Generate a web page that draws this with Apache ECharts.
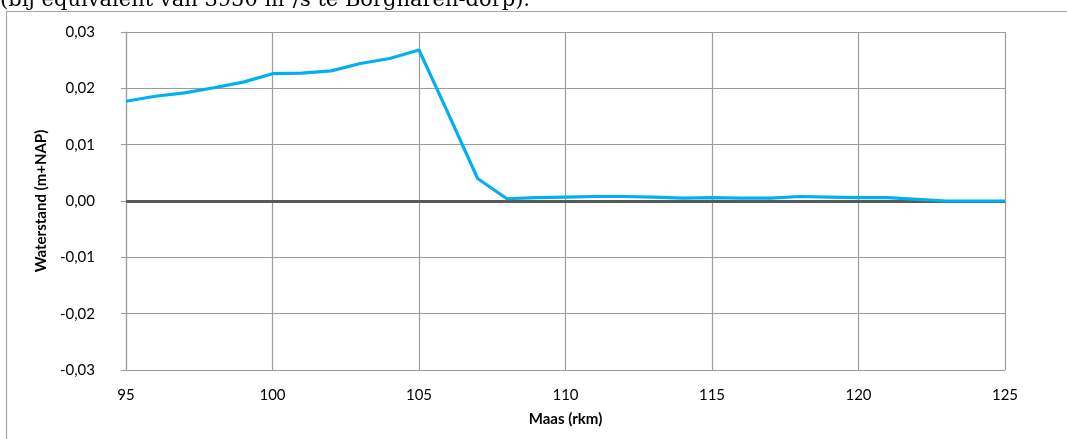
<!DOCTYPE html>
<html>
<head>
<meta charset="utf-8">
<title>Waterstand Maas</title>
<script src="https://cdn.jsdelivr.net/npm/echarts@6/dist/echarts.min.js"></script>
<style>
  html, body { margin: 0; padding: 0; background: #ffffff; }
  #chart { width: 1067px; height: 439px; }
</style>
</head>
<body>
<div id="chart"></div>
<script>
// River kilometre along the Maas
const rkm = [95, 96, 97, 98, 99, 100, 101, 102, 103, 104, 105, 106, 107, 108, 109, 110,
             111, 112, 113, 114, 115, 116, 117, 118, 119, 120, 121, 122, 123, 124, 125];
// Water level difference (m+NAP) at each kilometre
const waterstand = [0.0177, 0.0186, 0.0192, 0.0201, 0.0211, 0.0226, 0.0227, 0.0231, 0.0244, 0.0253,
                    0.0268, 0.0155, 0.0040, 0.0004, 0.0006, 0.0007, 0.0008, 0.0008, 0.0007, 0.0005,
                    0.0006, 0.0005, 0.0005, 0.0008, 0.0007, 0.0006, 0.0006, 0.0003, 0.0000, 0.0000, 0.0000];
// Axis settings
const xTicks = { min: 95, max: 125, step: 5 };
const yTicks = { min: -0.03, max: 0.03, step: 0.01 };
const captionText = '(bij equivalent van 3950 m\u00b3/s te Borgharen-dorp).';

const chart = echarts.init(document.getElementById('chart'), null, { renderer: 'canvas' });
const font = 'Lato, "Open Sans", sans-serif';
const gridColor = '#9c9c9c';

chart.setOption({
  animation: false,
  backgroundColor: '#ffffff',
  graphic: [
    {
      type: 'text', left: 0, top: -10,
      style: { text: captionText, font: '21px "DejaVu Serif", "Liberation Serif", serif', fill: '#000' }
    },
    {
      type: 'rect', shape: { x: 6.5, y: 11.5, width: 1100, height: 500 },
      style: { fill: 'none', stroke: '#a6a6a6', lineWidth: 1.2 }, silent: true
    }
  ],
  grid: { left: 126, top: 32, width: 879, height: 338, containLabel: false },
  xAxis: {
    type: 'value',
    min: xTicks.min, max: xTicks.max, interval: xTicks.step,
    name: 'Maas (rkm)', nameLocation: 'middle', nameGap: 42,
    nameTextStyle: { fontFamily: font, fontWeight: 'bold', fontSize: 15, color: '#000' },
    axisLine: { show: false },
    axisTick: { show: true, length: 5, lineStyle: { color: gridColor } },
    axisLabel: { margin: 18, fontFamily: font, fontSize: 15, color: '#000' },
    splitLine: { show: true, lineStyle: { color: gridColor, width: 1.2 } }
  },
  yAxis: {
    type: 'value',
    min: yTicks.min, max: yTicks.max, interval: yTicks.step,
    name: 'Waterstand (m+NAP)', nameLocation: 'middle', nameGap: 72, nameRotate: 90,
    nameTextStyle: { fontFamily: font, fontWeight: 'bold', fontSize: 15, color: '#000' },
    axisLine: { show: true, lineStyle: { color: gridColor, width: 1.2 } },
    axisTick: { show: true, length: 5, inside: false, lineStyle: { color: gridColor } },
    axisLabel: {
      margin: 31, fontFamily: font, fontSize: 15, color: '#000',
      formatter: v => v.toFixed(2).replace('.', ',')
    },
    splitLine: { show: true, lineStyle: { color: gridColor, width: 1.2 } }
  },
  series: [
    {
      type: 'line',
      data: rkm.map((k, i) => [k, waterstand[i]]),
      showSymbol: false,
      lineStyle: { color: '#00b0f0', width: 3.2 },
      itemStyle: { color: '#00b0f0' },
      z: 3,
      markLine: {
        silent: true,
        symbol: ['none', 'none'],
        label: { show: false },
        lineStyle: { color: '#595959', width: 3, type: 'solid' },
        data: [{ yAxis: 0 }],
        z: 2
      }
    }
  ]
});
</script>
</body>
</html>
